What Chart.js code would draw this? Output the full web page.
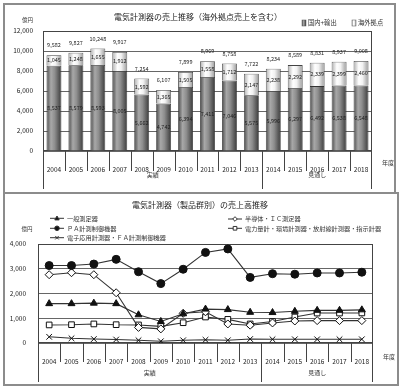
<!DOCTYPE html>
<html>
<head>
<meta charset="utf-8">
<script src="https://cdn.jsdelivr.net/npm/chart.js@4.4.1/dist/chart.umd.min.js"></script>
<style>
body { margin: 0; background: #fff; width: 400px; height: 390px; position: relative; overflow: hidden; }
.box { position: absolute; border: 2px solid #8c8c8c; box-sizing: border-box; background: #fff; }
#box1 { left: 3px; top: 3px; width: 393px; height: 191px; }
#box2 { left: 3px; top: 192px; width: 396px; height: 194px; }
canvas { display: block; }
</style>
</head>
<body>
<div class="box" id="box1"><canvas id="salesChart" width="389" height="187"></canvas></div>
<div class="box" id="box2"><canvas id="groupChart" width="392" height="190"></canvas></div>
<script>
const years = ["2004", "2005", "2006", "2007", "2008", "2009", "2010", "2011", "2012", "2013", "2014", "2015", "2016", "2017", "2018"];
const groups = ["実績", "見通し"];

// top chart (億円)
const domestic = [8537, 8579, 8593, 8005, 5662, 4742, 6394, 7411, 7046, 5575, 5996, 6297, 6492, 6538, 6548];
const overseas = [1045, 1248, 1655, 1912, 1592, 1365, 1505, 1558, 1712, 2147, 2238, 2292, 2339, 2399, 2460];
const totals = [9582, 9827, 10248, 9917, 7254, 6107, 7899, 8969, 8758, 7722, 8234, 8589, 8831, 8937, 9008];

// bottom chart (億円)
const ippan = [1590, 1590, 1610, 1590, 1140, 870, 1180, 1370, 1350, 1240, 1230, 1280, 1320, 1320, 1340];
const paKeisoku = [3130, 3130, 3190, 3380, 2880, 2400, 2980, 3660, 3800, 2650, 2800, 2780, 2830, 2830, 2860];
const denshiFa = [250, 190, 160, 140, 110, 70, 110, 130, 110, 160, 150, 150, 150, 150, 150];
const handotai = [2760, 2840, 2760, 2030, 630, 570, 1200, 1260, 770, 720, 810, 890, 905, 905, 905];
const denryoku = [730, 740, 770, 740, 730, 670, 820, 1050, 955, 770, 870, 1050, 1210, 1210, 1215];

const FONT = '"Noto Sans CJK JP", "Noto Sans", sans-serif';
Chart.defaults.font.family = FONT;
Chart.defaults.color = '#333';

function font(size) { return size + 'px ' + FONT; }
function fmt(v) { return v.toLocaleString('en-US'); }

function barGradient(ctx, x0, x1, light) {
  const g = ctx.createLinearGradient(x0, 0, x1, 0);
  if (light) {
    g.addColorStop(0, '#b0b0b0'); g.addColorStop(0.35, '#ffffff');
    g.addColorStop(0.6, '#f2f2f2'); g.addColorStop(1, '#9a9a9a');
  } else {
    g.addColorStop(0, '#4a4a4a'); g.addColorStop(0.3, '#a8a8a8');
    g.addColorStop(0.55, '#8e8e8e'); g.addColorStop(1, '#3a3a3a');
  }
  return g;
}

function barFill(light) {
  return function (c) {
    const chart = c.chart, area = chart.chartArea;
    if (!area || c.dataIndex === undefined) return light ? '#eee' : '#888';
    const x = chart.scales.x.getPixelForValue(c.dataIndex);
    const w = area.width / years.length * 0.68;
    return barGradient(chart.ctx, x - w / 2, x + w / 2, light);
  };
}

function marker(ctx, style, x, y, r) {
  ctx.beginPath();
  if (style === 'circle') {
    ctx.arc(x, y, r, 0, Math.PI * 2); ctx.fill(); ctx.stroke();
  } else if (style === 'triangle') {
    ctx.moveTo(x, y - r); ctx.lineTo(x + r * 0.95, y + r * 0.7); ctx.lineTo(x - r * 0.95, y + r * 0.7);
    ctx.closePath(); ctx.fill(); ctx.stroke();
  } else if (style === 'rectRot') {
    ctx.moveTo(x, y - r); ctx.lineTo(x + r, y); ctx.lineTo(x, y + r); ctx.lineTo(x - r, y);
    ctx.closePath(); ctx.fill(); ctx.stroke();
  } else if (style === 'rect') {
    ctx.rect(x - r * 0.8, y - r * 0.8, r * 1.6, r * 1.6); ctx.fill(); ctx.stroke();
  } else {
    const d = r * 0.75;
    ctx.moveTo(x - d, y - d); ctx.lineTo(x + d, y + d);
    ctx.moveTo(x + d, y - d); ctx.lineTo(x - d, y + d); ctx.stroke();
  }
}

function frame(chart) {
  const a = chart.chartArea, ctx = chart.ctx;
  ctx.save();
  ctx.strokeStyle = '#444'; ctx.lineWidth = 1;
  ctx.strokeRect(Math.round(a.left) + 0.5, Math.round(a.top) + 0.5, Math.round(a.width) - 1, Math.round(a.height) - 1);
  ctx.restore();
}

// separators and group captions under the category axis
function axisExtras(chart, cfg) {
  const ctx = chart.ctx, a = chart.chartArea, n = years.length, step = a.width / n;
  const split = 10;
  ctx.save();
  ctx.strokeStyle = '#444'; ctx.lineWidth = 1;
  for (let i = 0; i <= n; i++) {
    const x = Math.round(a.left + i * step) + (i === n ? -0.5 : 0.5);
    const long = i === 0 || i === split || i === n;
    ctx.beginPath();
    ctx.moveTo(x, a.bottom);
    ctx.lineTo(x, a.bottom + (long ? cfg.groupLen : cfg.tickLen));
    ctx.stroke();
  }
  ctx.fillStyle = '#333'; ctx.textAlign = 'center'; ctx.textBaseline = 'middle';
  ctx.font = font(6);
  ctx.fillText(groups[0], a.left + split * step / 2, a.bottom + cfg.groupY);
  ctx.fillText(groups[1], a.left + split * step + (n - split) * step / 2, a.bottom + cfg.groupY);
  ctx.fillText('年度', a.right + 16, a.bottom + cfg.yearY);
  ctx.font = font(5.5);
  ctx.fillText('億円', cfg.unitX, cfg.unitY);
  ctx.font = font(8);
  ctx.fillStyle = '#222';
  ctx.fillText(cfg.title, cfg.titleX, cfg.titleY);
  ctx.restore();
}

const topDeco = {
  id: 'topDeco',
  beforeDatasetsDraw(chart) { frame(chart); },
  afterDatasetsDraw(chart) {
    const ctx = chart.ctx;
    const dom = chart.getDatasetMeta(0).data, ovs = chart.getDatasetMeta(1).data;
    ctx.save();
    ctx.font = font(5.5); ctx.fillStyle = '#222';
    ctx.textAlign = 'center'; ctx.textBaseline = 'middle';
    years.forEach((yr, i) => {
      const d = dom[i], o = ovs[i];
      ctx.fillText(fmt(domestic[i]), d.x, (d.y + d.base) / 2);
      ctx.fillText(fmt(overseas[i]), o.x, (o.y + o.base) / 2);
      ctx.fillText(fmt(totals[i]), o.x, o.y - 10);
    });
    ctx.restore();
  },
  afterDraw(chart) {
    axisExtras(chart, {
      tickLen: 20, groupLen: 38, groupY: 24, yearY: 12,
      unitX: 22.5, unitY: 15,
      title: '電気計測器の売上推移（海外拠点売上を含む）', titleX: 193, titleY: 12
    });
    const ctx = chart.ctx;
    ctx.save();
    ctx.font = font(6.3); ctx.fillStyle = '#333'; ctx.textBaseline = 'middle'; ctx.textAlign = 'left';
    const items = [[297, '国内+輸出', false], [347, '海外拠点', true]];
    items.forEach(([x, text, light]) => {
      ctx.fillStyle = barGradient(ctx, x, x + 4, light);
      ctx.fillRect(x, 15, 4, 6);
      ctx.strokeStyle = '#555'; ctx.lineWidth = 0.5;
      ctx.strokeRect(x, 15, 4, 6);
      ctx.fillStyle = '#333';
      ctx.fillText(text, x + 6, 18);
    });
    ctx.restore();
  }
};

const lineSeries = [
  { label: '一般測定器', data: ippan, style: 'triangle', fill: '#111', r: 4 },
  { label: 'ＰＡ計測制御機器', data: paKeisoku, style: 'circle', fill: '#111', r: 4 },
  { label: '電子応用計測器・ＦＡ計測制御機器', data: denshiFa, style: 'crossRot', fill: '#fff', r: 4 },
  { label: '半導体・ＩＣ測定器', data: handotai, style: 'rectRot', fill: '#fff', r: 4 },
  { label: '電力量計・環境計測器・放射線計測器・指示計器', data: denryoku, style: 'rect', fill: '#fff', r: 4 }
];
const legendPos = [[45, 24.3], [45, 34.3], [45, 43.7], [223, 25], [223, 34.3]];

const bottomDeco = {
  id: 'bottomDeco',
  beforeDatasetsDraw(chart) { frame(chart); },
  afterDraw(chart) {
    axisExtras(chart, {
      tickLen: 19, groupLen: 39, groupY: 30, yearY: 14,
      unitX: 22, unitY: 35,
      title: '電気計測器（製品群別）の売上高推移', titleX: 195, titleY: 11
    });
    const ctx = chart.ctx;
    ctx.save();
    ctx.font = font(6.2); ctx.textBaseline = 'middle'; ctx.textAlign = 'left';
    lineSeries.forEach((s, i) => {
      const [x, y] = legendPos[i];
      ctx.strokeStyle = '#333'; ctx.lineWidth = 1;
      ctx.beginPath(); ctx.moveTo(x, y); ctx.lineTo(x + 14, y); ctx.stroke();
      ctx.fillStyle = s.fill;
      marker(ctx, s.style, x + 7, y, 2.3);
      ctx.fillStyle = '#333';
      ctx.fillText(s.label, x + 17, y);
    });
    ctx.restore();
  }
};

new Chart(document.getElementById('salesChart'), {
  type: 'bar',
  data: {
    labels: years,
    datasets: [
      { label: '国内+輸出', data: domestic, backgroundColor: barFill(false), borderColor: '#333', borderWidth: 0.8, barPercentage: 0.68, categoryPercentage: 1 },
      { label: '海外拠点', data: overseas, backgroundColor: barFill(true), borderColor: '#444', borderWidth: 0.8, barPercentage: 0.68, categoryPercentage: 1 }
    ]
  },
  options: {
    responsive: false, animation: false, devicePixelRatio: 1,
    layout: { padding: { left: 0, right: 22, top: 26, bottom: 0 } },
    plugins: { legend: { display: false }, tooltip: { enabled: false } },
    scales: {
      x: {
        stacked: true,
        grid: { display: false }, border: { display: false },
        ticks: { font: { size: 6.5 }, color: '#222', padding: 7, maxRotation: 0, autoSkip: false },
        afterFit(s) { s.height = 41; }
      },
      y: {
        stacked: true, min: 0, max: 12000,
        grid: { color: '#666', drawTicks: false }, border: { display: false },
        ticks: { stepSize: 2000, padding: 10, font: { size: 6.5 }, color: '#222', callback: v => fmt(v) },
        afterFit(s) { s.width = 38; }
      }
    }
  },
  plugins: [topDeco]
});

new Chart(document.getElementById('groupChart'), {
  type: 'line',
  data: {
    labels: years,
    datasets: lineSeries.map(s => ({
      label: s.label, data: s.data,
      borderColor: '#333', borderWidth: 1.1,
      pointStyle: s.style, pointRadius: s.r, pointBorderWidth: 1,
      pointBackgroundColor: s.fill, pointBorderColor: '#111',
      tension: 0
    }))
  },
  options: {
    responsive: false, animation: false, devicePixelRatio: 1,
    layout: { padding: { left: 0, right: 24, top: 50, bottom: 0 } },
    plugins: { legend: { display: false }, tooltip: { enabled: false } },
    scales: {
      x: {
        offset: true,
        grid: { display: false }, border: { display: false },
        ticks: { font: { size: 6.5 }, color: '#222', padding: 7, maxRotation: 0, autoSkip: false },
        afterFit(s) { s.height = 41; }
      },
      y: {
        min: 0, max: 4000,
        grid: { color: '#666', drawTicks: false }, border: { display: false },
        ticks: { stepSize: 1000, padding: 12, font: { size: 6.5 }, color: '#222', callback: v => fmt(v) },
        afterFit(s) { s.width = 33; }
      }
    }
  },
  plugins: [bottomDeco]
});
</script>
</body>
</html>
